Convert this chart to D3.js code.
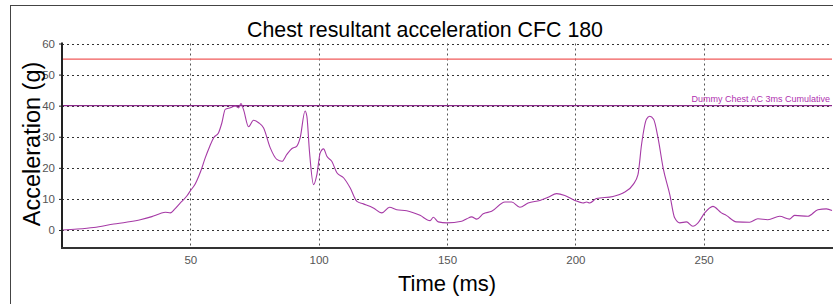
<!DOCTYPE html>
<html>
<head>
<meta charset="utf-8">
<script src="https://cdn.jsdelivr.net/npm/d3@7"></script>
<style>
  html, body { margin: 0; padding: 0; background: #fff; }
  svg { display: block; font-family: "Liberation Sans", Arial, sans-serif; }
</style>
</head>
<body>
<svg id="chart" width="833" height="304"></svg>
<script>
// ---- data ----
const timeMs = [0, 6, 12.4, 20.2, 25, 30.5, 35, 38.3, 40.3, 42.2, 44, 46.1, 48.7, 50, 51.9, 52.6, 54, 55.8, 57.5, 59.1, 61.0, 62.3, 63.6, 65.6, 67.5, 68.8, 69.7, 70.7, 72.7, 74.6, 76.6, 78.5, 81.1, 83.7, 85.7, 87.6, 89.6, 91.5, 92.8, 94.7, 95.4, 96.4, 98.0, 99.3, 100.6, 101.9, 103.2, 105.1, 107.1, 109.7, 112.3, 114.9, 117.4, 121.3, 124.6, 127.6, 130.4, 134.3, 139.5, 143.4, 144.7, 146.6, 149.9, 155.7, 157.7, 159.6, 161.6, 164.1, 167.4, 172.6, 175.2, 178.4, 181.6, 186.2, 189.4, 192.7, 195.9, 199.8, 203.0, 204.4, 205.6, 208.2, 214.7, 218.6, 222.5, 224.4, 225.8, 227.7, 229.0, 230.5, 232.2, 234.2, 236.8, 238.7, 240.7, 243.3, 245.8, 247.8, 250.4, 253.6, 256.9, 258.8, 262.7, 267.9, 271.1, 275.0, 279.6, 283.5, 285.4, 290.6, 294.5, 297.8, 300];
const accelG = [0, 0.3, 0.8, 1.9, 2.5, 3.3, 4.3, 5.3, 5.7, 5.5, 6.8, 8.7, 11.0, 12.6, 14.8, 16.0, 18.8, 23.2, 26.8, 29.7, 31.3, 34.5, 38.8, 39.3, 39.9, 39.3, 40.7, 38.8, 33.2, 35.3, 34.5, 32.9, 26.5, 22.7, 22.1, 24.3, 26.2, 27.0, 29.7, 38.3, 36.6, 25.4, 14.6, 17.8, 24.8, 26.1, 23.7, 22.1, 18.4, 16.8, 13.5, 9.2, 8.4, 7.1, 5.5, 7.3, 6.5, 6.2, 4.7, 3.0, 4.1, 2.6, 2.3, 2.8, 3.6, 4.2, 3.5, 5.2, 6.0, 9.0, 9.0, 7.3, 8.7, 9.5, 10.5, 11.7, 11.1, 9.5, 8.7, 9.0, 8.7, 10.1, 10.8, 11.9, 14.6, 17.8, 27.5, 35.6, 36.6, 35.6, 29.7, 20.0, 11.4, 3.9, 2.3, 2.6, 1.2, 2.3, 5.5, 7.6, 5.5, 4.7, 2.6, 2.5, 3.6, 3.3, 4.4, 3.5, 4.7, 4.4, 6.5, 6.8, 6.3];

const xTicks = [50, 100, 150, 200, 250];
const yTicks = [0, 10, 20, 30, 40, 50, 60];
const limitValue = 55;       // red limit line
const cumulativeValue = 40;  // 3ms cumulative line
const titleText = "Chest resultant acceleration CFC 180";
const xLabel = "Time (ms)";
const yLabel = "Acceleration (g)";
const cumulativeLabel = "Dummy Chest AC 3ms Cumulative";

// ---- layout ----
const svg = d3.select("#chart");
const plotLeft = 62, plotRight = 832, plotTop = 43.5, plotBottom = 248;

const x = d3.scaleLinear().domain([0, 300]).range([plotLeft, plotRight]);
const y = d3.scaleLinear().domain([-5.8, 60]).range([plotBottom, plotTop]);

// outer frame
svg.append("rect")
  .attr("x", 10.5).attr("y", 5.5)
  .attr("width", 900).attr("height", 400)
  .attr("fill", "none").attr("stroke", "#444").attr("stroke-width", 1);

// title
svg.append("text")
  .attr("x", 425).attr("y", 37)
  .attr("text-anchor", "middle")
  .attr("font-size", 22.5)
  .attr("textLength", 356)
  .attr("lengthAdjust", "spacingAndGlyphs")
  .attr("fill", "#000")
  .text(titleText);

// grid
const grid = svg.append("g");
grid.selectAll("line.h").data(yTicks).join("line")
  .attr("x1", plotLeft).attr("x2", plotRight)
  .attr("y1", d => Math.round(y(d)) + 0.5).attr("y2", d => Math.round(y(d)) + 0.5)
  .attr("stroke", "#333").attr("stroke-width", 1).attr("stroke-dasharray", "2,3");
grid.selectAll("line.v").data(xTicks).join("line")
  .attr("x1", d => Math.round(x(d)) + 0.5).attr("x2", d => Math.round(x(d)) + 0.5)
  .attr("y1", plotTop).attr("y2", plotBottom)
  .attr("stroke", "#555").attr("stroke-width", 1).attr("stroke-dasharray", "2,3");

// reference lines
svg.append("line")
  .attr("x1", plotLeft).attr("x2", plotRight)
  .attr("y1", y(limitValue)).attr("y2", y(limitValue))
  .attr("stroke", "#f05a5a").attr("stroke-width", 1.2);
svg.append("line")
  .attr("x1", plotLeft).attr("x2", plotRight)
  .attr("y1", y(cumulativeValue)).attr("y2", y(cumulativeValue))
  .attr("stroke", "#8a2a8a").attr("stroke-width", 1.3);
svg.append("text")
  .attr("x", plotRight - 2).attr("y", y(cumulativeValue) - 3.5)
  .attr("text-anchor", "end")
  .attr("font-size", 9)
  .attr("fill", "#b02fb0")
  .text(cumulativeLabel);

// data line
const line = d3.line()
  .x((d, i) => x(timeMs[i]))
  .y(d => y(d))
  .curve(d3.curveMonotoneX);
svg.append("path")
  .datum(accelG)
  .attr("d", line)
  .attr("fill", "none")
  .attr("stroke", "#a63aa6")
  .attr("stroke-width", 1.1);

// axes
const yAxis = d3.axisLeft(y).tickValues(yTicks).tickSize(3).tickPadding(4);
const gy = svg.append("g").attr("transform", `translate(${plotLeft},0)`).call(yAxis);
gy.select(".domain").remove();
gy.selectAll(".tick line").attr("stroke", "#222");
gy.selectAll(".tick text").attr("fill", "#555").attr("font-size", 11.5)
  .attr("font-family", "'Liberation Sans', Arial, sans-serif");

const xAxis = d3.axisBottom(x).tickValues(xTicks).tickSize(0).tickPadding(8);
const gx = svg.append("g").attr("transform", `translate(0,${plotBottom})`).call(xAxis);
gx.select(".domain").remove();
gx.selectAll(".tick text").attr("fill", "#555").attr("font-size", 11.5)
  .attr("font-family", "'Liberation Sans', Arial, sans-serif");

// axis lines
svg.append("line").attr("x1", plotLeft).attr("x2", plotLeft).attr("y1", plotTop - 1).attr("y2", plotBottom + 1)
  .attr("stroke", "#222").attr("stroke-width", 2);
svg.append("line").attr("x1", plotLeft - 1).attr("x2", 833).attr("y1", plotBottom).attr("y2", plotBottom)
  .attr("stroke", "#333").attr("stroke-width", 2);

// axis labels
svg.append("text")
  .attr("x", 447).attr("y", 291)
  .attr("text-anchor", "middle")
  .attr("font-size", 22)
  .attr("fill", "#000")
  .text(xLabel);
svg.append("text")
  .attr("transform", "translate(39.5,144) rotate(-90)")
  .attr("text-anchor", "middle")
  .attr("font-size", 23.5)
  .attr("fill", "#000")
  .text(yLabel);
</script>
</body>
</html>
